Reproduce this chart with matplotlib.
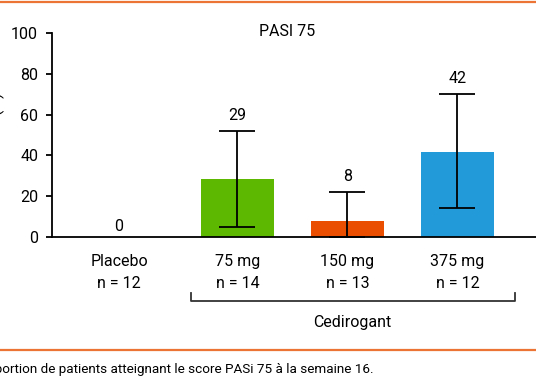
import numpy as np
import matplotlib
matplotlib.use('Agg')
import matplotlib.pyplot as plt
from matplotlib.lines import Line2D

plt.rcParams['font.family'] = ['Roboto', 'DejaVu Sans']

# data
groups = ['Placebo', '75 mg', '150 mg', '375 mg']
n_patients = [12, 14, 13, 12]
pasi75 = [0, 28.6, 7.7, 41.7]
value_labels = ['0', '29', '8', '42']
ci_low = [0, 5, 0, 14]
ci_high = [0, 52, 22, 70]
has_ci = [False, True, True, True]
colors = ['#5cb800', '#ea4e00', '#2299d8']

ORANGE_LINE = '#ec7434'
FS = 11.5

fig = plt.figure(figsize=(5.36, 3.86), dpi=100)
ax = fig.add_axes([52 / 536, 1 - 237 / 386, 1 - 52 / 536, 204 / 386])

x = np.array([-0.077, 1, 2, 3])
w = 0.665

# bars (placebo is zero, nothing to draw)
ax.bar(x[1:], pasi75[1:], width=w, color=colors, zorder=2)

lo = np.array(ci_low, dtype=float)
hi = np.array(ci_high, dtype=float)
val = np.array(pasi75, dtype=float)
mask = np.array(has_ci)
ax.errorbar(x[mask], val[mask], yerr=[val[mask] - lo[mask], hi[mask] - val[mask]],
            fmt='none', ecolor='black', elinewidth=1.3, capsize=13.3, capthick=1.3, zorder=3)

label_y = np.where(mask, hi + 7.5, 5)
for xi, yi, s in zip(x, label_y, value_labels):
    ax.text(xi, yi, s, ha='center', va='center', fontsize=FS)

ax.set_xlim(-0.686, 3.714)
ax.set_ylim(0, 100)
ax.set_yticks([0, 20, 40, 60, 80, 100])
ax.set_xticks(x)
ax.set_xticklabels([f'{g}\nn = {n}' for g, n in zip(groups, n_patients)], linespacing=1.6)
ax.tick_params(axis='x', length=0, pad=12, labelsize=FS)
ax.tick_params(axis='y', length=4, width=1.3, pad=6, labelsize=FS)
for s in ['top', 'right']:
    ax.spines[s].set_visible(False)
for s in ['left', 'bottom']:
    ax.spines[s].set_linewidth(1.3)

# bracket under Cedirogant doses
tr = ax.get_xaxis_transform()
bx0, bx1 = 1 - 0.425, 3 + 0.52
ax.plot([bx0, bx0, bx1, bx1], [-0.275, -0.314, -0.314, -0.275], color='#333333',
        lw=1.3, transform=tr, clip_on=False)
ax.text((bx0 + bx1) / 2, -0.42, 'Cedirogant', ha='center', va='center', fontsize=FS,
        transform=tr)

fig.text(287 / 536, 1 - 32 / 386, 'PASI 75', ha='center', va='center', fontsize=FS)
fig.text(5 / 536, 1 - 135 / 386, 'Patients (%)', rotation=90, ha='right', va='center',
         fontsize=FS)

# orange rules and caption
fig.add_artist(Line2D([0, 1], [1 - 1.5 / 386] * 2, color=ORANGE_LINE, lw=1.6))
fig.add_artist(Line2D([0, 1], [1 - 349.5 / 386] * 2, color=ORANGE_LINE, lw=1.6))
fig.text(-26 / 536, 1 - 369 / 386,
         'Proportion de patients atteignant le score PASi 75 à la semaine 16.',
         ha='left', va='center', fontsize=9.7)

fig.savefig('out.png', dpi=100)
